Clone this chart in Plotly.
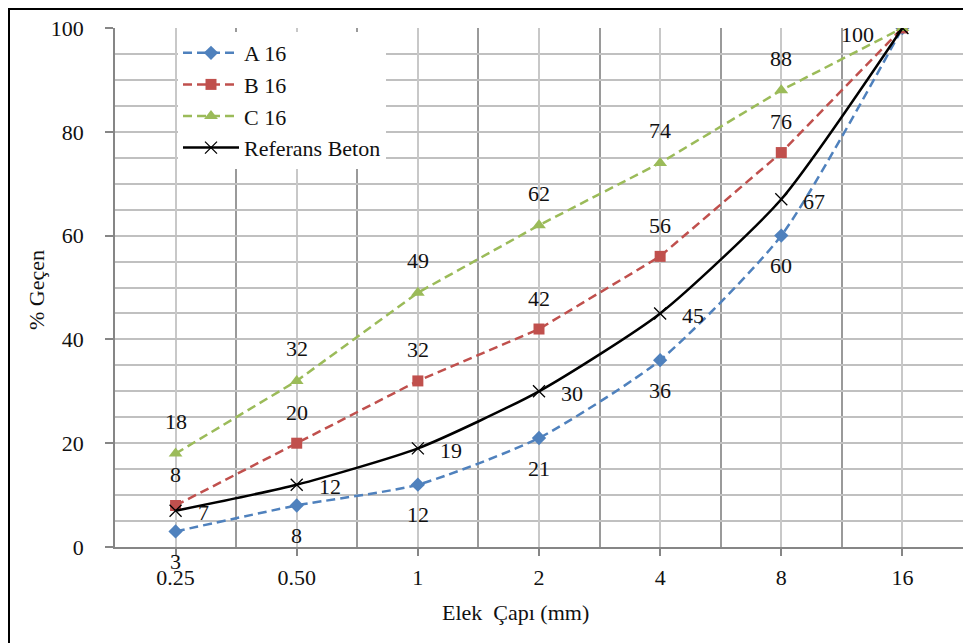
import plotly.graph_objects as go

categories = ["0.25", "0.50", "1", "2", "4", "8", "16"]
a16 = [3, 8, 12, 21, 36, 60, 100]
b16 = [8, 20, 32, 42, 56, 76, 100]
c16 = [18, 32, 49, 62, 74, 88, 100]
ref = [7, 12, 19, 30, 45, 67, 100]
y_ticks = [0, 20, 40, 60, 80, 100]

FONT = "Liberation Serif, Times New Roman, serif"
FS = 22
xs = list(range(len(categories)))

# page body has an 8px margin: shrink the figure and margins to compensate
OFF = 8
W, H = 971 - OFF, 643 - OFF
L, T, R, B = 115 - OFF, 28 - OFF, 8, 96
PW, PH = W - L - R, H - T - B


def px(x):
    return (x - OFF - L) / PW


def py(y):
    return (H - B - (y - OFF)) / PH


fig = go.Figure()


def add(name, vals, color, symbol, dash, shape, msize, mline=0):
    fig.add_trace(go.Scatter(
        x=xs, y=vals, name=name, mode="lines+markers", legendgroup=name,
        line=dict(color=color, width=2.5, dash=dash, shape=shape, smoothing=0.6),
        marker=dict(symbol=symbol, size=msize, color=color,
                    line=dict(width=mline, color=color)),
    ))


add("A 16", a16, "#4F81BD", "diamond", "9px,5px", "spline", 11)
add("B 16", b16, "#C0504D", "square", "9px,5px", "linear", 11)
add("C 16", c16, "#9BBB59", "triangle-up", "9px,5px", "linear", 12)
add("Referans Beton", ref, "#000000", "x-thin", "solid", "spline", 12, 1.3)

ann = []
lab_font = dict(family=FONT, size=FS, color="#111111")
for i, v in enumerate(a16[:-1]):
    ann.append(dict(x=xs[i], y=v, text=str(v), showarrow=False, yshift=-30, font=lab_font))
for i, v in enumerate(b16[:-1]):
    ann.append(dict(x=xs[i], y=v, text=str(v), showarrow=False, yshift=31, font=lab_font))
for i, v in enumerate(c16[:-1]):
    ann.append(dict(x=xs[i], y=v, text=str(v), showarrow=False, yshift=32, font=lab_font))
for i, v in enumerate(ref[:-1]):
    ann.append(dict(x=xs[i], y=v, text=str(v), showarrow=False, xanchor="left",
                    xshift=20, yshift=-2, font=lab_font))
ann.append(dict(x=xs[-1], y=ref[-1], text=str(ref[-1]), showarrow=False, xanchor="right",
                xshift=-26, yshift=-6, font=lab_font))

# axis titles
ann.append(dict(xref="paper", yref="paper", x=px(515), y=py(612), xanchor="center", yanchor="middle",
                text="Elek  Çapı (mm)", showarrow=False, font=dict(family=FONT, size=FS, color="#111111")))
ann.append(dict(xref="paper", yref="paper", x=px(37), y=py(290), xanchor="center", yanchor="middle",
                text="% Geçen", textangle=-90, showarrow=False,
                font=dict(family=FONT, size=FS, color="#111111")))

fig.update_layout(
    width=W, height=H,
    margin=dict(l=L, r=R, t=T, b=B, pad=0),
    paper_bgcolor="white", plot_bgcolor="white",
    font=dict(family=FONT, size=FS, color="#111111"),
    annotations=ann,
    legend=dict(x=px(178), y=py(32), xanchor="left", yanchor="top",
                bgcolor="white", font=dict(family=FONT, size=FS, color="#111111"),
                tracegroupgap=2, traceorder="normal", itemwidth=56),
    shapes=[dict(type="rect", xref="paper", yref="paper",
                 x0=px(9), x1=px(990), y0=py(660), y1=py(9),
                 line=dict(color="black", width=2), layer="above")],
)

fig.update_xaxes(
    range=[-0.5, len(categories) - 0.5],
    tickmode="array", tickvals=xs, ticktext=categories,
    showgrid=True, gridcolor="#c8c8c8", gridwidth=1.5,
    minor=dict(tickmode="array", tickvals=[i - 0.5 for i in xs] + [xs[-1] + 0.5],
               showgrid=True, gridcolor="#9a9a9a", gridwidth=1.5),
    ticks="outside", ticklen=7, tickcolor="#868686", tickwidth=1.5,
    showline=True, linecolor="#868686", linewidth=1.5,
    zeroline=False, ticklabelstandoff=3,
)
fig.update_yaxes(
    range=[0, 100], tickmode="array", tickvals=y_ticks,
    showgrid=True, gridcolor="#c0c0c0", gridwidth=1.5,
    minor=dict(dtick=5, showgrid=True, gridcolor="#c0c0c0", gridwidth=1.5),
    ticks="outside", ticklen=8, tickcolor="#868686", tickwidth=1.5,
    showline=True, linecolor="#868686", linewidth=1.5,
    zeroline=False, ticklabelstandoff=17,
)

fig.write_html("out.html")
